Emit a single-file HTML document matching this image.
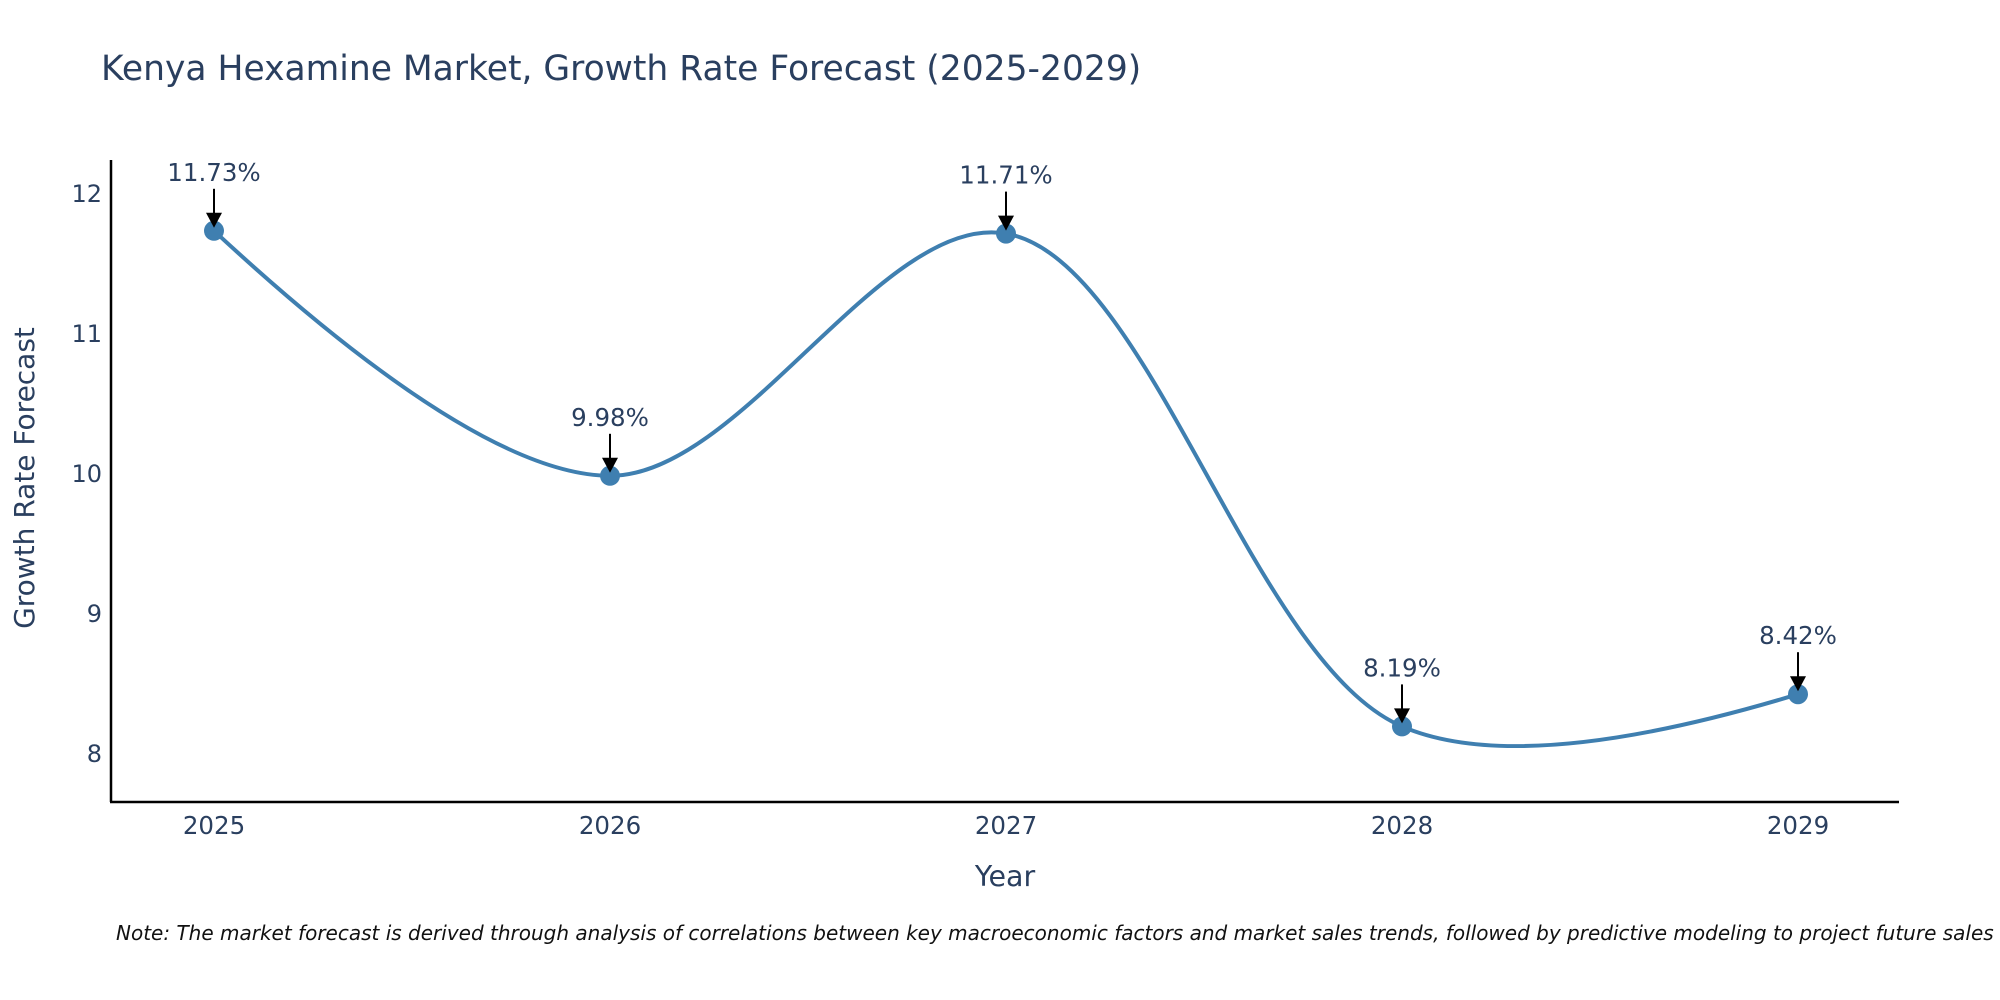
<!DOCTYPE html>
<html><head><meta charset="utf-8">
<style>
body{margin:0;background:#fff;}
svg{display:block;font-family:"DejaVu Sans","Liberation Sans",sans-serif;}
</style></head>
<body>
<svg id="chart" width="2000" height="1000" viewBox="0 0 2000 1000" xmlns="http://www.w3.org/2000/svg">
<rect width="2000" height="1000" fill="#fff"/>
<text x="101" y="80" font-size="34.5" fill="#2a3f5f">Kenya Hexamine Market, Growth Rate Forecast (2025-2029)</text>
<g id="yticks"></g>
<g id="xticks"></g>
<path id="line" fill="none" stroke="#3f7fb0" stroke-width="4"/>
<g id="points"></g>
<g id="annots"></g>
<line x1="111" y1="160" x2="111" y2="802" stroke="#000" stroke-width="2.5"/>
<line x1="110" y1="802" x2="1899" y2="802" stroke="#000" stroke-width="2.5"/>
<text transform="translate(34,478) rotate(-90)" text-anchor="middle" font-size="28" fill="#2a3f5f">Growth Rate Forecast</text>
<text x="1005" y="886" text-anchor="middle" font-size="28.5" fill="#2a3f5f">Year</text>
<text x="116" y="940" font-size="20" font-style="italic" fill="#111">Note: The market forecast is derived through analysis of correlations between key macroeconomic factors and market sales trends, followed by predictive modeling to project future sales</text>
</svg>
<script>
const years = ["2025","2026","2027","2028","2029"];
const values = [11.73, 9.98, 11.71, 8.19, 8.42];
const labels = ["11.73%","9.98%","11.71%","8.19%","8.42%"];
const yTicks = [8, 9, 10, 11, 12];

const NS = "http://www.w3.org/2000/svg";
function xs(i){ return 214 + i * (1798 - 214) / (years.length - 1); }
function ys(v){ return 753 - (v - 8) * (753 - 193) / 4; }
function mk(tag, attrs, parent){ const e = document.createElementNS(NS, tag); for (const k in attrs) e.setAttribute(k, attrs[k]); parent.appendChild(e); return e; }

const yg = document.getElementById('yticks');
yTicks.forEach(t => {
  const e = mk('text', {x:102, y:ys(t)+9, 'text-anchor':'end', 'font-size':24, fill:'#2a3f5f'}, yg);
  
  
  e.textContent = t;
});
const xg = document.getElementById('xticks');
years.forEach((y, i) => {
  const e = mk('text', {x:xs(i), y:834, 'text-anchor':'middle', 'font-size':24.5, fill:'#2a3f5f'}, xg);
  
  
  e.textContent = y;
});

const pts = values.map((v, i) => [xs(i), ys(v)]);
function tangent(p, t, n, s){
  const d1x=p[0]-t[0], d1y=p[1]-t[1], d2x=n[0]-t[0], d2y=n[1]-t[1];
  const d1a=Math.pow(d1x*d1x+d1y*d1y,0.25), d2a=Math.pow(d2x*d2x+d2y*d2y,0.25);
  const nx=(d2a*d2a*d1x-d1a*d1a*d2x)*s, ny=(d2a*d2a*d1y-d1a*d1a*d2y)*s;
  const den1=3*d2a*(d1a+d2a), den2=3*d1a*(d1a+d2a);
  return [[t[0]+nx/den1, t[1]+ny/den1],[t[0]-nx/den2, t[1]-ny/den2]];
}
const tg = [];
for (let i = 1; i < pts.length - 1; i++) tg.push(tangent(pts[i-1], pts[i], pts[i+1], 1));
let d = 'M' + pts[0] + 'Q' + tg[0][0] + ' ' + pts[1];
for (let i = 2; i < pts.length - 1; i++) d += 'C' + tg[i-2][1] + ' ' + tg[i-1][0] + ' ' + pts[i];
d += 'Q' + tg[pts.length-3][1] + ' ' + pts[pts.length-1];
document.getElementById('line').setAttribute('d', d);

const pg = document.getElementById('points');
const ag = document.getElementById('annots');
values.forEach((v, i) => {
  const cx = xs(i), cy = ys(v);
  const c = mk('circle', {cx:cx, cy:cy, r:10, fill:'#3f7fb0'}, pg);
  
  
  const ln = mk('line', {x1:cx, y1:cy-42, x2:cx, y2:cy-16, stroke:'#000', 'stroke-width':2}, ag);
  
  
  const hd = mk('polygon', {points:(cx-8)+','+(cy-18)+' '+(cx+8)+','+(cy-18)+' '+cx+','+(cy-3), fill:'#000'}, ag);
  
  
  const t = mk('text', {x:cx, y:cy-50, 'text-anchor':'middle', 'font-size':24.5, fill:'#2a3f5f'}, ag);
  
  
  t.textContent = labels[i];
});
</script>
</body></html>
